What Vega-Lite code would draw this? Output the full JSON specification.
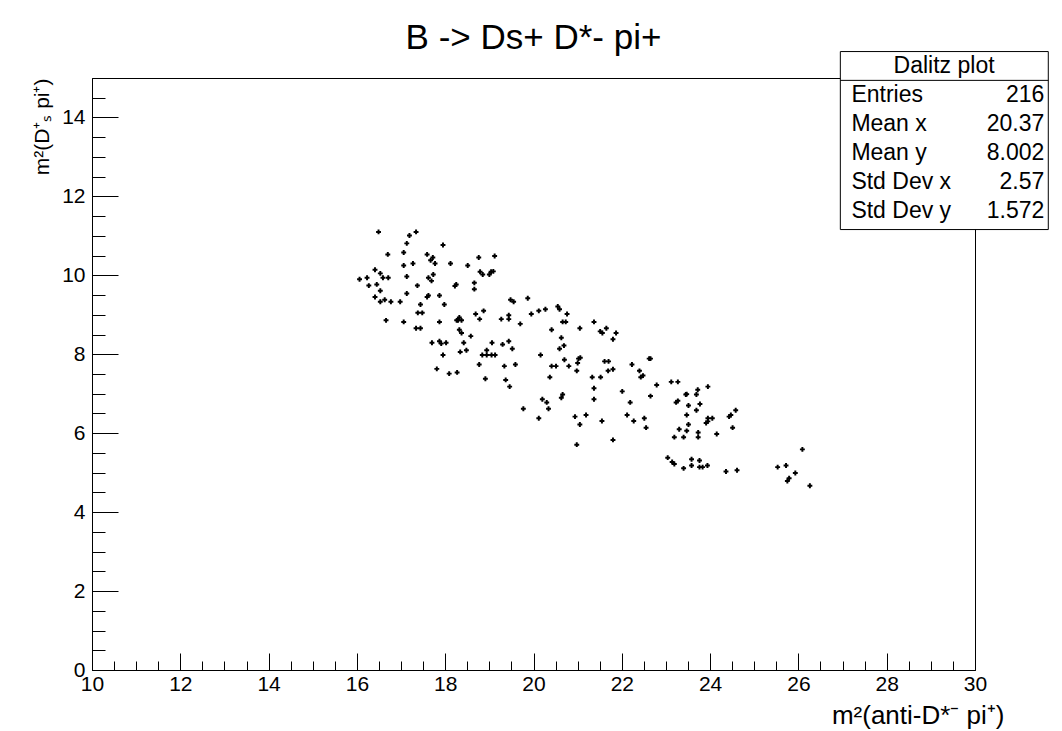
{
  "$schema": "https://vega.github.io/schema/vega-lite/v6.json",
  "autosize": {"type": "none"},
  "padding": {"left": 92, "top": 78, "right": 87, "bottom": 61},
  "width": 883,
  "height": 592,
  "background": "white",
  "config": {
    "font": "Liberation Sans",
    "view": {"stroke": "black", "strokeWidth": 1},
    "axis": {"grid": false, "domainColor": "black", "tickColor": "black", "tickWidth": 1, "labelColor": "black", "titleColor": "black", "labelFont": "Liberation Sans", "titleFont": "Liberation Sans", "titleFontWeight": "normal", "labelFontSize": 21, "titleFontSize": 26, "tickCount": 100, "labelFlush": false}
  },
  "title": {"text": "B -> Ds+ D*- pi+", "fontSize": 35, "fontWeight": "normal", "font": "Liberation Sans", "color": "black", "anchor": "middle", "offset": -5},
  "resolve": {"axis": {"x": "independent", "y": "independent"}},
  "layer": [
    {
      "data": {"values": [
        {"x": 16.49, "y": 11.10}, {"x": 17.19, "y": 11.01}, {"x": 17.34, "y": 11.10}, {"x": 17.13, "y": 10.81}, {"x": 17.95, "y": 10.77},
        {"x": 16.70, "y": 10.53}, {"x": 17.06, "y": 10.58}, {"x": 17.59, "y": 10.53}, {"x": 17.72, "y": 10.45}, {"x": 17.67, "y": 10.38},
        {"x": 17.77, "y": 10.30}, {"x": 17.06, "y": 10.25}, {"x": 17.27, "y": 10.30}, {"x": 18.12, "y": 10.30}, {"x": 18.51, "y": 10.25},
        {"x": 18.76, "y": 10.45}, {"x": 19.12, "y": 10.49}, {"x": 16.41, "y": 10.14}, {"x": 16.53, "y": 10.05}, {"x": 16.06, "y": 9.90},
        {"x": 16.23, "y": 9.94}, {"x": 16.59, "y": 9.94}, {"x": 16.71, "y": 9.94}, {"x": 17.13, "y": 9.97}, {"x": 17.62, "y": 9.94},
        {"x": 17.73, "y": 10.02}, {"x": 17.69, "y": 9.86}, {"x": 18.79, "y": 10.09}, {"x": 18.85, "y": 10.02}, {"x": 19.00, "y": 10.02},
        {"x": 19.04, "y": 10.09}, {"x": 19.09, "y": 10.10}, {"x": 18.25, "y": 9.77}, {"x": 18.22, "y": 9.73}, {"x": 18.66, "y": 9.81},
        {"x": 18.66, "y": 9.65}, {"x": 16.27, "y": 9.74}, {"x": 16.45, "y": 9.77}, {"x": 16.53, "y": 9.61}, {"x": 17.37, "y": 9.74},
        {"x": 17.13, "y": 9.54}, {"x": 17.62, "y": 9.49}, {"x": 17.59, "y": 9.45}, {"x": 17.87, "y": 9.49}, {"x": 16.41, "y": 9.45},
        {"x": 16.53, "y": 9.33}, {"x": 16.63, "y": 9.38}, {"x": 16.77, "y": 9.33}, {"x": 16.98, "y": 9.33}, {"x": 17.44, "y": 9.26},
        {"x": 17.98, "y": 9.26}, {"x": 17.38, "y": 9.05}, {"x": 17.48, "y": 9.05}, {"x": 18.69, "y": 9.02}, {"x": 18.87, "y": 9.10},
        {"x": 18.32, "y": 8.93}, {"x": 18.29, "y": 8.86}, {"x": 18.37, "y": 8.86}, {"x": 18.26, "y": 8.86}, {"x": 18.78, "y": 8.89},
        {"x": 19.27, "y": 8.89}, {"x": 16.66, "y": 8.86}, {"x": 17.06, "y": 8.82}, {"x": 17.87, "y": 8.82}, {"x": 17.34, "y": 8.66},
        {"x": 17.44, "y": 8.66}, {"x": 18.32, "y": 8.62}, {"x": 18.37, "y": 8.54}, {"x": 18.58, "y": 8.46}, {"x": 19.48, "y": 9.38},
        {"x": 19.55, "y": 9.33}, {"x": 19.87, "y": 9.42}, {"x": 19.44, "y": 8.99}, {"x": 19.44, "y": 8.89}, {"x": 19.70, "y": 8.77},
        {"x": 19.95, "y": 9.02}, {"x": 20.12, "y": 9.10}, {"x": 20.27, "y": 9.14}, {"x": 20.55, "y": 9.21}, {"x": 20.59, "y": 9.14},
        {"x": 20.76, "y": 9.02}, {"x": 20.66, "y": 8.82}, {"x": 20.73, "y": 8.82}, {"x": 20.41, "y": 8.62}, {"x": 21.05, "y": 8.66},
        {"x": 21.37, "y": 8.82}, {"x": 21.51, "y": 8.58}, {"x": 21.56, "y": 8.54}, {"x": 21.65, "y": 8.66}, {"x": 21.87, "y": 8.54},
        {"x": 21.80, "y": 8.38}, {"x": 20.63, "y": 8.42}, {"x": 20.69, "y": 8.22}, {"x": 19.44, "y": 8.33}, {"x": 17.70, "y": 8.29},
        {"x": 17.87, "y": 8.33}, {"x": 17.91, "y": 8.27}, {"x": 18.02, "y": 8.29}, {"x": 18.42, "y": 8.29}, {"x": 19.06, "y": 8.29},
        {"x": 19.30, "y": 8.25}, {"x": 17.95, "y": 7.98}, {"x": 18.34, "y": 8.06}, {"x": 18.48, "y": 8.10}, {"x": 18.94, "y": 8.10},
        {"x": 18.84, "y": 7.98}, {"x": 18.94, "y": 7.98}, {"x": 19.05, "y": 7.98}, {"x": 19.13, "y": 7.98}, {"x": 18.77, "y": 7.74},
        {"x": 19.34, "y": 7.70}, {"x": 17.81, "y": 7.63}, {"x": 18.09, "y": 7.51}, {"x": 18.27, "y": 7.54}, {"x": 18.91, "y": 7.38},
        {"x": 19.37, "y": 7.35}, {"x": 19.46, "y": 7.18}, {"x": 19.52, "y": 8.14}, {"x": 20.16, "y": 7.98}, {"x": 20.59, "y": 8.14},
        {"x": 19.59, "y": 7.74}, {"x": 20.41, "y": 7.70}, {"x": 20.51, "y": 7.70}, {"x": 20.70, "y": 7.86}, {"x": 20.80, "y": 7.70},
        {"x": 21.02, "y": 7.89}, {"x": 21.06, "y": 7.91}, {"x": 21.00, "y": 7.78}, {"x": 20.98, "y": 7.58}, {"x": 20.37, "y": 7.42},
        {"x": 21.61, "y": 7.82}, {"x": 21.70, "y": 7.82}, {"x": 21.69, "y": 7.58}, {"x": 21.80, "y": 7.62}, {"x": 22.23, "y": 7.74},
        {"x": 22.62, "y": 7.89}, {"x": 22.65, "y": 7.89}, {"x": 22.40, "y": 7.58}, {"x": 22.48, "y": 7.46}, {"x": 22.43, "y": 7.42},
        {"x": 22.79, "y": 7.22}, {"x": 21.33, "y": 7.42}, {"x": 21.52, "y": 7.42}, {"x": 21.37, "y": 7.14}, {"x": 21.37, "y": 6.86},
        {"x": 20.20, "y": 6.86}, {"x": 20.30, "y": 6.78}, {"x": 20.63, "y": 6.90}, {"x": 20.66, "y": 6.98}, {"x": 20.34, "y": 6.62},
        {"x": 19.77, "y": 6.62}, {"x": 20.12, "y": 6.38}, {"x": 20.94, "y": 6.42}, {"x": 21.19, "y": 6.46}, {"x": 21.05, "y": 6.22},
        {"x": 21.55, "y": 6.31}, {"x": 22.01, "y": 7.06}, {"x": 22.19, "y": 6.78}, {"x": 22.65, "y": 6.94}, {"x": 22.12, "y": 6.46},
        {"x": 22.27, "y": 6.31}, {"x": 22.51, "y": 6.38}, {"x": 22.55, "y": 6.14}, {"x": 21.80, "y": 5.83}, {"x": 20.98, "y": 5.71},
        {"x": 23.12, "y": 7.30}, {"x": 23.27, "y": 7.30}, {"x": 23.95, "y": 7.18}, {"x": 23.72, "y": 7.10}, {"x": 23.45, "y": 6.98},
        {"x": 23.47, "y": 6.99}, {"x": 23.69, "y": 6.98}, {"x": 23.27, "y": 6.82}, {"x": 23.23, "y": 6.78}, {"x": 23.51, "y": 6.70},
        {"x": 23.77, "y": 6.74}, {"x": 23.69, "y": 6.58}, {"x": 24.58, "y": 6.58}, {"x": 24.47, "y": 6.46}, {"x": 24.43, "y": 6.42},
        {"x": 23.47, "y": 6.46}, {"x": 23.95, "y": 6.38}, {"x": 24.05, "y": 6.38}, {"x": 23.91, "y": 6.26}, {"x": 23.95, "y": 6.30},
        {"x": 23.51, "y": 6.22}, {"x": 24.51, "y": 6.14}, {"x": 23.30, "y": 6.10}, {"x": 23.47, "y": 6.06}, {"x": 23.73, "y": 6.02},
        {"x": 23.73, "y": 5.90}, {"x": 24.15, "y": 5.98}, {"x": 23.19, "y": 5.90}, {"x": 23.40, "y": 5.90}, {"x": 26.09, "y": 5.59},
        {"x": 23.04, "y": 5.38}, {"x": 23.14, "y": 5.27}, {"x": 23.19, "y": 5.22}, {"x": 23.40, "y": 5.11}, {"x": 23.58, "y": 5.34},
        {"x": 23.58, "y": 5.18}, {"x": 23.76, "y": 5.31}, {"x": 23.76, "y": 5.14}, {"x": 23.83, "y": 5.14}, {"x": 23.94, "y": 5.18},
        {"x": 24.36, "y": 5.03}, {"x": 24.61, "y": 5.06}, {"x": 25.53, "y": 5.14}, {"x": 25.72, "y": 5.18}, {"x": 25.93, "y": 4.99},
        {"x": 25.79, "y": 4.86}, {"x": 25.75, "y": 4.79}, {"x": 26.26, "y": 4.67}
      ]},
      "mark": {"type": "point", "shape": "cross", "filled": true, "color": "black", "size": 24, "opacity": 1},
      "encoding": {
        "x": {"field": "x", "type": "quantitative",
          "scale": {"domain": [10, 30], "nice": false, "zero": false},
          "axis": {
            "orient": "bottom", "format": "d",
            "title": "m²(anti-D*⁻ pi⁺)", "titleAnchor": "end", "titleAlign": "right", "titleX": 912, "titleY": 53, "titleBaseline": "alphabetic",
            "values": [10, 12, 14, 16, 18, 20, 22, 24, 26, 28, 30],
            "tickSize": -17, "labelPadding": 20
          }
        },
        "y": {"field": "y", "type": "quantitative",
          "scale": {"domain": [0, 15], "nice": false, "zero": false},
          "axis": {
            "orient": "left", "format": "d",
            "title": "m²(D⁺ₛ pi⁺)", "titleAnchor": "end", "titleAlign": "right", "titleX": -44, "titleY": 0, "titleAngle": -90, "titleBaseline": "alphabetic", "titleFontSize": 21,
            "values": [0, 2, 4, 6, 8, 10, 12, 14],
            "tickSize": -26, "labelPadding": 33
          }
        }
      }
    },
    {
      "data": {"values": [{}]},
      "mark": {"type": "point", "opacity": 0},
      "encoding": {
        "x": {"datum": 20, "type": "quantitative",
          "axis": {
            "orient": "bottom", "title": null, "labels": false, "domain": false, "tickSize": -9,
            "values": [10.5,11,11.5,12.5,13,13.5,14.5,15,15.5,16.5,17,17.5,18.5,19,19.5,20.5,21,21.5,22.5,23,23.5,24.5,25,25.5,26.5,27,27.5,28.5,29,29.5]
          }
        },
        "y": {"datum": 5, "type": "quantitative",
          "axis": {
            "orient": "left", "title": null, "labels": false, "domain": false, "tickSize": -13,
            "values": [0.5,1,1.5,2.5,3,3.5,4.5,5,5.5,6.5,7,7.5,8.5,9,9.5,10.5,11,11.5,12.5,13,13.5,14.5,15]
          }
        }
      }
    },
    {
      "data": {"values": [{}]},
      "mark": {"type": "rect", "fill": "white", "stroke": "black", "strokeWidth": 1, "clip": false},
      "encoding": {"x": {"datum": 26.95, "axis": null}, "x2": {"datum": 31.66}, "y": {"datum": 15.67, "axis": null}, "y2": {"datum": 11.16}}
    },
    {
      "data": {"values": [{}]},
      "mark": {"type": "rule", "color": "black", "strokeWidth": 1, "clip": false},
      "encoding": {"x": {"datum": 26.95, "axis": null}, "x2": {"datum": 31.66}, "y": {"datum": 14.94, "axis": null}}
    },
    {
      "data": {"values": [{}]},
      "mark": {"type": "text", "text": "Dalitz plot", "fontSize": 23, "align": "center", "baseline": "middle", "color": "black", "font": "Liberation Sans", "clip": false},
      "encoding": {"x": {"datum": 29.3, "axis": null}, "y": {"datum": 15.31, "axis": null}}
    },
    {
      "data": {"values": [{}]},
      "mark": {"type": "text", "text": ["Entries", "Mean x", "Mean y", "Std Dev x", "Std Dev y"], "lineHeight": 29, "fontSize": 23, "align": "left", "baseline": "middle", "color": "black", "font": "Liberation Sans", "clip": false},
      "encoding": {"x": {"datum": 27.2, "axis": null}, "y": {"datum": 14.56, "axis": null}}
    },
    {
      "data": {"values": [{}]},
      "mark": {"type": "text", "text": ["216", "20.37", "8.002", "2.57", "1.572"], "lineHeight": 29, "fontSize": 23, "align": "right", "baseline": "middle", "color": "black", "font": "Liberation Sans", "clip": false},
      "encoding": {"x": {"datum": 31.57, "axis": null}, "y": {"datum": 14.56, "axis": null}}
    }
  ]
}
